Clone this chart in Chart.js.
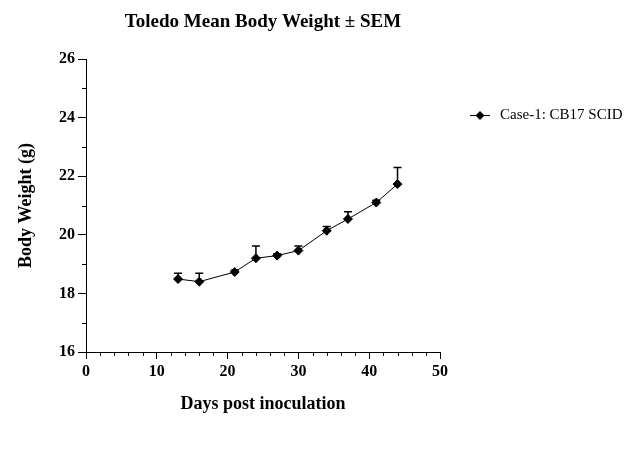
<!DOCTYPE html>
<html>
<head>
<meta charset="utf-8">
<script src="https://cdn.jsdelivr.net/npm/chart.js@4/dist/chart.umd.min.js"></script>
<style>
  html, body { margin: 0; padding: 0; background: #fff; }
  #wrap { width: 638px; height: 450px; }
</style>
</head>
<body>
<div id="wrap"><canvas id="myChart" width="638" height="450"></canvas></div>
<script>
// data
var days = [13, 16, 21, 24, 27, 30, 34, 37, 41, 44];
var meanWeight = [18.49, 18.40, 18.73, 19.20, 19.29, 19.46, 20.14, 20.54, 21.10, 21.73];
var sem = [0.20, 0.29, 0.06, 0.42, 0.06, 0.16, 0.14, 0.25, 0.08, 0.57];
var xTicks = [0, 10, 20, 30, 40, 50];
var yTicks = [16, 18, 20, 22, 24, 26];
var seriesName = 'Case-1: CB17 SCID';

var serif = "'Liberation Serif', 'Times New Roman', serif";

// error bars (upper half only), drawn under the markers
var errorBars = {
    id: 'errorBars',
    beforeDatasetsDraw: function(chart) {
        var c = chart.ctx, xs = chart.scales.x, ys = chart.scales.y;
        c.save();
        c.strokeStyle = '#000';
        c.lineWidth = 1.5;
        for (var i = 0; i < days.length; i++) {
            var px = xs.getPixelForValue(days[i]);
            var py = ys.getPixelForValue(meanWeight[i]);
            var pt = ys.getPixelForValue(meanWeight[i] + sem[i]);
            c.beginPath();
            c.moveTo(px, py);
            c.lineTo(px, pt);
            c.moveTo(px - 4, pt);
            c.lineTo(px + 4, pt);
            c.stroke();
        }
        c.restore();
    }
};

// minor ticks between the labelled ones
var minorTicks = {
    id: 'minorTicks',
    afterDraw: function(chart) {
        var c = chart.ctx, xs = chart.scales.x, ys = chart.scales.y;
        c.save();
        c.strokeStyle = '#000';
        c.lineWidth = 1;
        c.beginPath();
        for (var v = 2; v < 50; v += 2) {
            if (v % 10 === 0) continue;
            var px = Math.round(xs.getPixelForValue(v)) + 0.5;
            c.moveTo(px, xs.top);
            c.lineTo(px, xs.top + 4);
        }
        for (var w = 17; w < 26; w += 2) {
            var py = Math.round(ys.getPixelForValue(w)) + 0.5;
            c.moveTo(ys.right, py);
            c.lineTo(ys.right - 4, py);
        }
        c.stroke();
        c.restore();
    }
};

// legend: line with a diamond, then the series name
var sideLegend = {
    id: 'sideLegend',
    afterDraw: function(chart) {
        var c = chart.ctx;
        var y = 115.5;
        c.save();
        c.strokeStyle = '#000';
        c.fillStyle = '#000';
        c.lineWidth = 1;
        c.beginPath();
        c.moveTo(470, y);
        c.lineTo(490, y);
        c.stroke();
        c.beginPath();
        c.moveTo(480, y - 4.5);
        c.lineTo(484.5, y);
        c.lineTo(480, y + 4.5);
        c.lineTo(475.5, y);
        c.closePath();
        c.fill();
        c.font = '15px ' + serif;
        c.textBaseline = 'middle';
        c.fillText(seriesName, 500, y);
        c.restore();
    }
};

var ctx = document.getElementById('myChart').getContext('2d');
var myChart = new Chart(ctx, {
    type: 'scatter',
    data: {
        datasets: [{
            label: seriesName,
            data: days.map(function(d, i) { return {x: d, y: meanWeight[i]}; }),
            showLine: true,
            borderColor: '#000',
            backgroundColor: '#000',
            borderWidth: 1,
            pointStyle: 'rectRot',
            pointRadius: 4.5,
            pointHoverRadius: 4.5
        }]
    },
    options: {
        responsive: false,
        animation: false,
        layout: {
            padding: {left: 0, right: 198, top: 0, bottom: 28}
        },
        plugins: {
            legend: { display: false },
            tooltip: { enabled: false },
            title: {
                display: true,
                fullSize: false,
                text: 'Toledo Mean Body Weight \u00b1 SEM',
                color: '#000',
                font: { family: serif, size: 19, weight: 'bold' },
                padding: { top: 11, bottom: 25.2 }
            }
        },
        scales: {
            x: {
                type: 'linear',
                min: 0,
                max: 50,
                afterFit: function(scale) { scale.height = 70; },
                afterBuildTicks: function(scale) {
                    scale.ticks = xTicks.map(function(v) { return {value: v}; });
                },
                border: { color: '#000', width: 1 },
                grid: { drawOnChartArea: false, tickLength: 7, tickColor: '#000' },
                ticks: {
                    color: '#000',
                    padding: 3,
                    maxRotation: 0,
                    font: { family: serif, size: 16, weight: 'bold' }
                },
                title: {
                    display: true,
                    text: 'Days post inoculation',
                    color: '#000',
                    font: { family: serif, size: 18, weight: 'bold' },
                    padding: { top: 7, bottom: 7 }
                }
            },
            y: {
                min: 16,
                max: 26,
                afterFit: function(scale) { scale.width = 86; },
                afterBuildTicks: function(scale) {
                    scale.ticks = yTicks.map(function(v) { return {value: v}; });
                },
                border: { color: '#000', width: 1 },
                grid: { drawOnChartArea: false, tickLength: 8, tickColor: '#000' },
                ticks: {
                    color: '#000',
                    padding: 3,
                    font: { family: serif, size: 16, weight: 'bold' }
                },
                title: {
                    display: true,
                    text: 'Body Weight (g)',
                    color: '#000',
                    font: { family: serif, size: 18, weight: 'bold' },
                    padding: { top: 16, bottom: 0 }
                }
            }
        }
    },
    plugins: [errorBars, minorTicks, sideLegend]
});
</script>
</body>
</html>
